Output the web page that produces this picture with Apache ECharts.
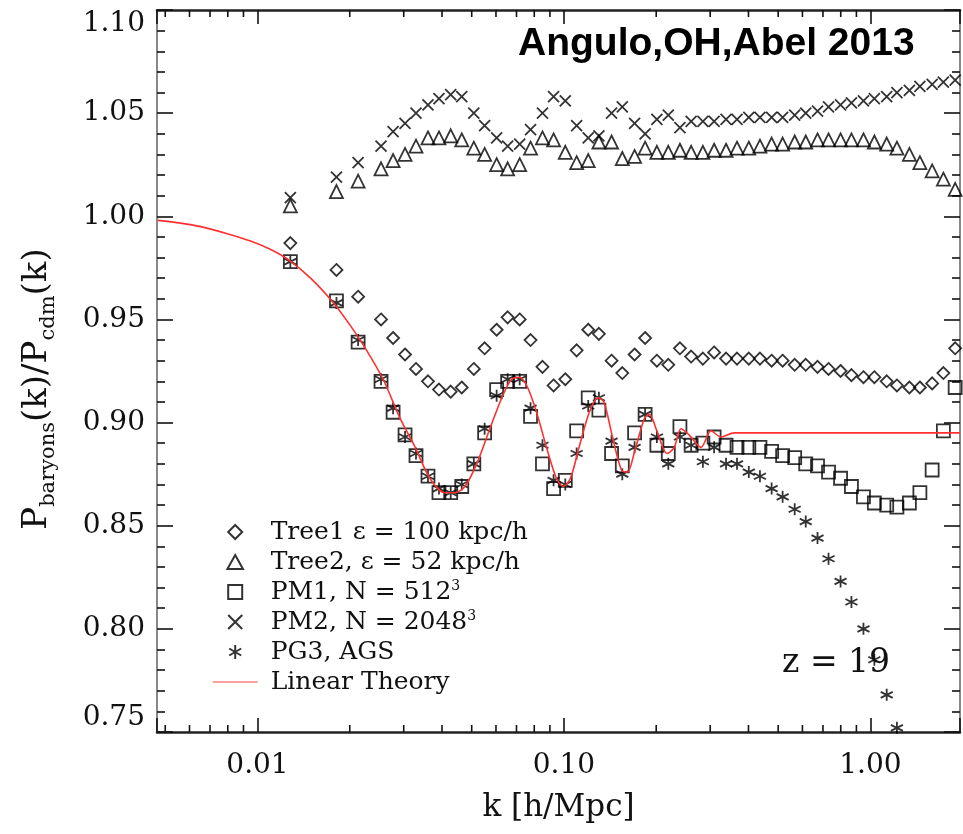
<!DOCTYPE html>
<html>
<head>
<meta charset="utf-8">
<script src="https://cdn.jsdelivr.net/npm/echarts@6/dist/echarts.min.js"></script>
<style>
  html, body { margin: 0; padding: 0; background: #fff; }
  #chart { width: 963px; height: 834px; }
</style>
</head>
<body>
<div id="chart"></div>
<script>
// Wavenumber bins shared by the simulation measurements [h/Mpc]
const kBins = [0.0128, 0.0181, 0.0213, 0.0253, 0.0277, 0.0303, 0.0329, 0.0360, 0.0391, 0.0427,
  0.0464, 0.0508, 0.0551, 0.0603, 0.0655, 0.0717, 0.0778, 0.0851, 0.0925, 0.101,
  0.110, 0.120, 0.130, 0.143, 0.155, 0.170, 0.184, 0.201, 0.219, 0.239,
  0.260, 0.284, 0.309, 0.338, 0.367, 0.401, 0.436, 0.476, 0.517, 0.566,
  0.615, 0.672, 0.730, 0.799, 0.867, 0.949, 1.03, 1.13, 1.22, 1.34,
  1.45, 1.59, 1.73, 1.89];

// P_baryons / P_cdm for each run
const tree1 = [0.987, 0.974, 0.961, 0.950, 0.941, 0.933, 0.926, 0.920, 0.916, 0.915,
  0.917, 0.926, 0.936, 0.945, 0.951, 0.950, 0.940, 0.927, 0.918, 0.921,
  0.935, 0.945, 0.943, 0.930, 0.924, 0.933, 0.941, 0.930, 0.928, 0.936,
  0.932, 0.931, 0.934, 0.931, 0.931, 0.931, 0.931, 0.930, 0.930, 0.928,
  0.928, 0.927, 0.926, 0.925, 0.923, 0.922, 0.922, 0.920, 0.918, 0.917,
  0.917, 0.919, 0.924, 0.936];
const tree2 = [1.005, 1.012, 1.017, 1.023, 1.027, 1.030, 1.034, 1.038, 1.038, 1.039,
  1.037, 1.033, 1.030, 1.025, 1.023, 1.025, 1.033, 1.038, 1.037, 1.031,
  1.026, 1.027, 1.036, 1.036, 1.028, 1.029, 1.033, 1.031, 1.031, 1.032,
  1.031, 1.031, 1.032, 1.032, 1.033, 1.033, 1.034, 1.035, 1.035, 1.036,
  1.036, 1.037, 1.037, 1.037, 1.037, 1.037, 1.036, 1.035, 1.033, 1.030,
  1.026, 1.022, 1.018, 1.013];
const pm1 = [0.978, 0.959, 0.939, 0.920, 0.905, 0.894, 0.884, 0.874, 0.866, 0.866,
  0.869, 0.880, 0.895, 0.916, 0.920, 0.920, 0.903, 0.880, 0.868, 0.872,
  0.896, 0.912, 0.906, 0.885, 0.879, 0.895, 0.904, 0.889, 0.885, 0.898,
  0.889, 0.890, 0.893, 0.889, 0.888, 0.888, 0.888, 0.886, 0.884, 0.883,
  0.880, 0.879, 0.876, 0.873, 0.869, 0.864, 0.861, 0.860, 0.859, 0.861,
  0.866, 0.877, 0.896, 0.917];
const pm2 = [1.009, 1.019, 1.026, 1.034, 1.041, 1.045, 1.050, 1.054, 1.057, 1.059,
  1.058, 1.050, 1.044, 1.038, 1.034, 1.035, 1.042, 1.050, 1.058, 1.056,
  1.044, 1.038, 1.039, 1.050, 1.053, 1.045, 1.040, 1.047, 1.049, 1.043,
  1.046, 1.046, 1.046, 1.047, 1.047, 1.048, 1.048, 1.048, 1.048, 1.049,
  1.050, 1.051, 1.053, 1.054, 1.055, 1.056, 1.057, 1.058, 1.060, 1.061,
  1.063, 1.064, 1.065, 1.066];
const pg3 = [0.978, 0.958, 0.940, 0.921, 0.907, 0.893, 0.885, 0.874, 0.868, 0.866,
  0.870, 0.880, 0.897, 0.913, 0.921, 0.921, 0.907, 0.889, 0.872, 0.870,
  0.885, 0.908, 0.912, 0.891, 0.875, 0.888, 0.904, 0.893, 0.880, 0.893,
  0.889, 0.881, 0.888, 0.880, 0.880, 0.876, 0.874, 0.868, 0.864, 0.858,
  0.852, 0.844, 0.834, 0.823, 0.813, 0.800, 0.785, 0.768, 0.752];

// Linear theory prediction
const theoryK = [0.00473, 0.00562, 0.00653, 0.00787, 0.00949, 0.0110, 0.0126, 0.0149, 0.0177, 0.0201,
  0.0225, 0.0257, 0.0292, 0.0327, 0.0365, 0.0409, 0.0440, 0.0475, 0.0519, 0.0573,
  0.0631, 0.0675, 0.0717, 0.0761, 0.0814, 0.0877, 0.0945, 0.0996, 0.105, 0.112,
  0.121, 0.129, 0.135, 0.144, 0.154, 0.161, 0.170, 0.183, 0.190, 0.201,
  0.217, 0.229, 0.241, 0.256, 0.280, 0.302, 0.325, 0.359, 0.401, 1.96];
const theoryV = [0.998, 0.9967, 0.995, 0.9918, 0.988, 0.984, 0.979, 0.970, 0.958, 0.947,
  0.936, 0.921, 0.902, 0.888, 0.873, 0.866, 0.866, 0.869, 0.880, 0.897,
  0.913, 0.921, 0.922, 0.917, 0.905, 0.888, 0.873, 0.869, 0.873, 0.888,
  0.905, 0.912, 0.910, 0.893, 0.877, 0.876, 0.886, 0.902, 0.904, 0.896,
  0.885, 0.888, 0.897, 0.894, 0.888, 0.896, 0.893, 0.895, 0.895, 0.895];

// Axis ranges and minor tick positions on the log k axis
const K_MIN = 0.0047, K_MAX = 1.96;
const Y_MIN = 0.75, Y_MAX = 1.10;
const kMinorTicks = [0.005, 0.006, 0.007, 0.008, 0.009,
  0.02, 0.03, 0.04, 0.05, 0.06, 0.07, 0.08, 0.09,
  0.2, 0.3, 0.4, 0.5, 0.6, 0.7, 0.8, 0.9];
const kLabels = { '-2': '0.01', '-1': '0.10', '0': '1.00' };

const seriesNames = ['Tree1', 'Tree2', 'PM1', 'PM2', 'PG3', 'Linear Theory'];
const legendNames = ['Tree1 ε = 100 kpc/h', 'Tree2, ε = 52 kpc/h', 'PM1, N = 512{sup|3}',
  'PM2, N = 2048{sup|3}', 'PG3, AGS', 'Linear Theory'];

const SERIF = '"DejaVu Serif", "Liberation Serif", serif';
const pair = (ks, vs) => vs.map((v, i) => [ks[i], v]);

const hollow = { color: 'rgba(0,0,0,0)', borderColor: '#000', borderWidth: 1.8 };
const shapes = {
  diamond: 'path://M5,0L10,5L5,10L0,5Z',
  triangle: 'path://M5,0L10,9L0,9Z',
  square: 'path://M0,0H10V10H0Z',
  cross: 'path://M0,0L10,10M10,0L0,10',
  star: 'path://M5,0L5,10M0.7,2.5L9.3,7.5M9.3,2.5L0.7,7.5'
};

function markerSeries(name, sym, size, values) {
  return {
    name, type: 'scatter', symbol: sym, symbolSize: size,
    itemStyle: hollow, data: pair(kBins, values), z: 3
  };
}

const chart = echarts.init(document.getElementById('chart'), null, { renderer: 'canvas' });

const tickStyle = { color: '#111', width: 1.6 };

chart.setOption({
  animation: false,
  backgroundColor: '#fff',
  grid: { left: 157, right: 1, top: 10, bottom: 102 },
  xAxis: [{
    type: 'log', logBase: 10, min: K_MIN, max: K_MAX, position: 'bottom',
    name: 'k [h/Mpc]', nameLocation: 'middle', nameGap: 60,
    nameTextStyle: { fontFamily: SERIF, fontSize: 31, color: '#111' },
    axisLine: { lineStyle: { color: '#222', width: 2.5 } },
    axisTick: { inside: true, length: 14, lineStyle: tickStyle },
    axisLabel: {
      margin: 20, fontFamily: SERIF, fontSize: 28, color: '#111',
      formatter: v => {
        const e = Math.round(Math.log10(v));
        return Math.abs(Math.log10(v) - e) < 1e-6 && kLabels[e] ? kLabels[e] : '';
      }
    },
    splitLine: { show: false }
  }, {
    type: 'log', logBase: 10, min: K_MIN, max: K_MAX, position: 'top',
    axisLine: { lineStyle: { color: '#222', width: 2.5 } },
    axisTick: { inside: true, length: 14, lineStyle: tickStyle },
    axisLabel: { show: false },
    splitLine: { show: false }
  }],
  yAxis: [{
    type: 'value', min: Y_MIN, max: Y_MAX, interval: 0.05, position: 'left',
    name: '{m|P}{s|baryons}{m|(k)/P}{s|cdm}{m|(k)}',
    nameLocation: 'middle', nameRotate: 90, nameGap: 98,
    nameTextStyle: {
      color: '#111',
      padding: [0, 36, 0, 0],
      rich: {
        m: { fontFamily: SERIF, fontSize: 34, lineHeight: 44, color: '#111' },
        s: { fontFamily: SERIF, fontSize: 21, lineHeight: 21, verticalAlign: 'bottom', color: '#111' }
      }
    },
    axisLine: { lineStyle: { color: '#888', width: 2 } },
    axisTick: { inside: true, length: 16, lineStyle: tickStyle },
    minorTick: { show: true, splitNumber: 5, length: 8, lineStyle: tickStyle },
    axisLabel: {
      margin: 12, fontFamily: SERIF, fontSize: 28, color: '#111',
      verticalAlignMaxLabel: 'top', verticalAlignMinLabel: 'bottom',
      formatter: v => v.toFixed(2)
    },
    splitLine: { show: false }
  }, {
    type: 'value', min: Y_MIN, max: Y_MAX, interval: 0.05, position: 'right',
    axisLine: { lineStyle: { color: '#888', width: 2 } },
    axisTick: { inside: true, length: 16, lineStyle: tickStyle },
    minorTick: { show: true, splitNumber: 5, length: 8, lineStyle: tickStyle },
    axisLabel: { show: false },
    splitLine: { show: false }
  }],
  legend: {
    orient: 'vertical', left: 207, top: 514,
    itemWidth: 45, itemHeight: 14, itemGap: 4,
    data: seriesNames.map(n => n === 'Linear Theory'
      ? { name: n, itemStyle: { opacity: 0 }, lineStyle: { color: '#ff8080', width: 1.4 } }
      : { name: n }),
    formatter: name => legendNames[seriesNames.indexOf(name)],
    textStyle: {
      fontFamily: SERIF, fontSize: 25, lineHeight: 26, color: '#111',
      padding: [0, 0, 0, 8],
      rich: { sup: { fontFamily: SERIF, fontSize: 14, verticalAlign: 'top', lineHeight: 26, color: '#111' } }
    },
    selectedMode: false
  },
  series: [
    {
      name: 'Linear Theory', type: 'line', data: pair(theoryK, theoryV),
      smooth: 0.3, showSymbol: false, symbol: 'none',
      lineStyle: { color: '#ff3030', width: 1.6 }, z: 4
    },
    markerSeries('Tree1', shapes.diamond, 12, tree1),
    markerSeries('Tree2', shapes.triangle, 13, tree2),
    markerSeries('PM1', shapes.square, 13, pm1),
    markerSeries('PM2', shapes.cross, 11, pm2),
    markerSeries('PG3', shapes.star, 12, pg3),
    {
      // minor ticks of the log axis, on bottom and top frame
      type: 'custom', silent: true, clip: false, z: 5,
      data: kMinorTicks.map(k => [k, Y_MIN]),
      renderItem: (params, api) => {
        const b = api.coord([api.value(0), Y_MIN]);
        const t = api.coord([api.value(0), Y_MAX]);
        return {
          type: 'group', children: [
            { type: 'line', shape: { x1: b[0], y1: b[1], x2: b[0], y2: b[1] - 7 }, style: { stroke: '#111', lineWidth: 1.6 } },
            { type: 'line', shape: { x1: t[0], y1: t[1], x2: t[0], y2: t[1] + 7 }, style: { stroke: '#111', lineWidth: 1.6 } }
          ]
        };
      }
    }
  ],
  graphic: [
    {
      type: 'text', left: 518, top: 25, z: 10,
      style: { text: 'Angulo,OH,Abel 2013', fontFamily: '"Liberation Sans", Arial, sans-serif', fontWeight: 'bold', fontSize: 39, fill: '#000' }
    },
    {
      type: 'text', left: 782, top: 647, z: 10,
      style: { text: 'z = 19', fontFamily: SERIF, fontSize: 33, fill: '#111' }
    }
  ]
});
</script>
</body>
</html>
